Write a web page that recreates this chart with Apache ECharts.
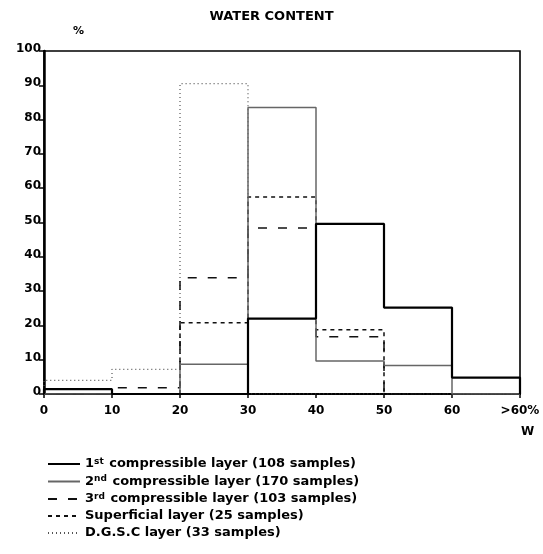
<!DOCTYPE html>
<html><head><meta charset="utf-8">
<script src="https://cdn.jsdelivr.net/npm/echarts@6/dist/echarts.min.js"></script>
<style>html,body{margin:0;padding:0;background:#fff}#c{width:543px;height:554px}</style>
</head><body><div id="c"></div>
<script>
// Bin lower edges (water content W, %) and tick labels
var binEdges = [0, 10, 20, 30, 40, 50, 60, 70];
var xTickLabels = ['0', '10', '20', '30', '40', '50', '60', '>60%'];
// Percent of samples in each bin: 0-10,10-20,20-30,30-40,40-50,50-60,>60
var layer1 = [1.4, 0, 0, 22, 49.6, 25.2, 4.8];
var layer2 = [0, 0, 8.7, 83.5, 9.6, 8.3, 0];
var layer3 = [0, 1.8, 33.9, 48.4, 16.7, 0, 0];
var superficial = [0, 0, 20.8, 57.4, 18.7, 0, 0];
var dgsc = [4, 7.2, 90.5, 0, 0, 0, 0];
var seriesNames = [
  '1st compressible layer (108 samples)',
  '2nd compressible layer (170 samples)',
  '3rd compressible layer (103 samples)',
  'Superficial layer (25 samples)',
  'D.G.S.C layer (33 samples)'
];
var legendRich = {};
legendRich[seriesNames[0]] = '1{sup|st} compressible layer (108 samples)';
legendRich[seriesNames[1]] = '2{sup|nd} compressible layer (170 samples)';
legendRich[seriesNames[2]] = '3{sup|rd} compressible layer (103 samples)';
legendRich[seriesNames[3]] = 'Superficial layer (25 samples)';
legendRich[seriesNames[4]] = 'D.G.S.C layer (33 samples)';

function stepData(vals) {
  var d = [[binEdges[0], 0]];
  for (var i = 0; i < vals.length; i++) d.push([binEdges[i], vals[i]]);
  d.push([binEdges[vals.length], 0]);
  return d;
}
var FONT = 'DejaVu Sans';
var chart = echarts.init(document.getElementById('c'), null, {renderer: 'canvas'});
function mk(name, vals, style, z) {
  return {name: name, type: 'line', step: 'end', symbol: 'none', z: z,
    data: stepData(vals), lineStyle: style, itemStyle: {color: style.color},
    animation: false, silent: true};
}
chart.setOption({
  backgroundColor: '#fff',
  animation: false,
  title: {text: 'WATER CONTENT', left: 'center', top: 5,
    textStyle: {fontFamily: FONT, fontWeight: 'bold', fontSize: 13, color: '#000'}},
  grid: {left: 44, right: 23, top: 51, bottom: 160, show: true, borderColor: '#000', borderWidth: 1.6, backgroundColor: 'transparent'},
  xAxis: {type: 'value', min: 0, max: 70, interval: 10,
    axisLine: {lineStyle: {color: '#000', width: 2}},
    axisTick: {show: true, length: 4, lineStyle: {color: '#000', width: 1.5}},
    splitLine: {show: false},
    axisLabel: {margin: 11, color: '#000', fontFamily: FONT, fontWeight: 'bold', fontSize: 12,
      formatter: function (v) { return xTickLabels[Math.round(v / 10)]; }}},
  yAxis: {type: 'value', min: 0, max: 100, interval: 10,
    axisLine: {show: true, lineStyle: {color: '#000', width: 2.5}},
    axisTick: {show: true, length: 5, lineStyle: {color: '#000', width: 1.5}},
    splitLine: {show: false},
    axisLabel: {margin: 3, color: '#000', fontFamily: FONT, fontWeight: 'bold', fontSize: 12, verticalAlign: 'bottom', padding: [0,0,-4,0]}},
  legend: {orient: 'vertical', left: 42, top: 452, itemWidth: 32, itemHeight: 12, itemGap: 4,
    data: seriesNames,
    itemStyle: {opacity: 0},
    formatter: function (n) { return legendRich[n]; },
    textStyle: {fontFamily: FONT, fontWeight: 'bold', fontSize: 13, color: '#000',
      rich: {sup: {fontFamily: FONT, fontWeight: 'bold', fontSize: 9, verticalAlign: 'top', padding: [0, 1, 5, 0], color: '#000'}}}},
  graphic: [
    {type: 'text', left: 73, top: 26, style: {text: '%', font: 'bold 11px "DejaVu Sans"', fill: '#000'}},
    {type: 'text', left: 521, top: 426, style: {text: 'W', font: 'bold 12px "DejaVu Sans"', fill: '#000'}}
  ],
  series: [
    mk(seriesNames[4], dgsc, {color: '#555', width: 1.2, type: [1, 3]}, 2),
    mk(seriesNames[3], superficial, {color: '#111', width: 1.5, type: [4, 4]}, 3),
    mk(seriesNames[2], layer3, {color: '#111', width: 1.5, type: [9, 11]}, 4),
    mk(seriesNames[1], layer2, {color: '#666', width: 1.5, type: 'solid'}, 5),
    mk(seriesNames[0], layer1, {color: '#000', width: 2.2, type: 'solid'}, 6)
  ]
});
</script></body></html>
